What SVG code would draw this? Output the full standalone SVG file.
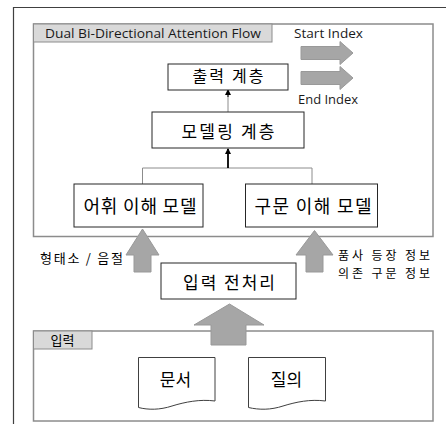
<svg xmlns="http://www.w3.org/2000/svg" width="446" height="424" viewBox="0 0 446 424">
<defs>
<style>
.frame{fill:none;stroke:#404040;stroke-width:1.2}
.group{fill:#fff;stroke:#8c8c8c;stroke-width:1.5}
.tab{fill:#d9d9d9;stroke:#8c8c8c;stroke-width:1}
.box{fill:#fff;stroke:#262626;stroke-width:1}
.doc{fill:#fff;stroke:#404040;stroke-width:1}
.blk{fill:#a6a6a6;stroke:#999;stroke-width:1}
.ko{font-family:"Noto Sans CJK KR","Noto Sans",sans-serif;fill:#000}
.lat{font-family:"Open Sans","Noto Sans",sans-serif;fill:#1a1a1a}
.ln{fill:none;stroke:#8c8c8c;stroke-width:1}
</style>
<marker id="ah" viewBox="0 0 6 6" refX="5" refY="3" markerWidth="6" markerHeight="6" orient="auto" markerUnits="userSpaceOnUse">
<path d="M0,0 L6,3 L0,6 Z" fill="#000"/>
</marker>
</defs>
<rect width="446" height="424" fill="#fff"/>
<path class="frame" d="M13.5,424 V7.5 H446"/>

<g id="dbaf">
<rect class="group" x="33.5" y="24" width="399.5" height="212.5"/>
<rect class="tab" x="33.5" y="24" width="238.5" height="18"/>
<text class="lat" x="45" y="38" font-size="12" textLength="216" lengthAdjust="spacingAndGlyphs">Dual Bi-Directional Attention Flow</text>
</g>

<g id="input-group">
<rect class="group" x="33.5" y="331" width="399.5" height="90"/>
<rect class="tab" x="33.5" y="331" width="58.5" height="18"/>
<text class="ko" x="62.5" y="345" font-size="13" text-anchor="middle">입력</text>
</g>

<g id="connectors">
<path class="ln" d="M228,112 V92"/>
<path d="M228,97 V90" stroke="#000" stroke-width="1" marker-end="url(#ah)"/>
<path class="ln" d="M142.5,184 V168 H312 V184"/>
<path d="M228,168 V149" stroke="#000" stroke-width="1.8" marker-end="url(#ah)"/>
<polygon id="arrow-left" class="blk" points="142.5,229 159,255 151,255 151,272 134,272 134,255 126,255"/>
<polygon id="arrow-right" class="blk" points="314.5,230.5 333,255 323,255 323,272 306,272 306,255 296,255"/>
<polygon id="arrow-big" class="blk" points="229.5,304 264,325 246,325 246,345 211,345 211,325 194,325"/>
<polygon id="arrow-start" class="blk" points="301,46.5 340,46.5 340,41.5 353,53 340,64.5 340,59.5 301,59.5"/>
<polygon id="arrow-end" class="blk" points="301,71.5 340,71.5 340,66.5 353,78 340,89.5 340,84.5 301,84.5"/>
</g>

<g id="output-layer">
<rect class="box" x="168" y="64" width="120" height="26"/>
<text class="ko" x="228" y="82" font-size="16" text-anchor="middle" textLength="71">출력 계층</text>
</g>

<g id="modeling-layer">
<rect class="box" x="152" y="112" width="152" height="36"/>
<text class="ko" x="228" y="138" font-size="17" text-anchor="middle" textLength="93">모델링 계층</text>
</g>

<g id="lexical-model">
<rect class="box" x="74" y="184" width="129" height="43"/>
<text class="ko" x="140" y="213" font-size="18" text-anchor="middle" textLength="113">어휘 이해 모델</text>
</g>

<g id="syntax-model">
<rect class="box" x="245.5" y="184" width="132" height="43"/>
<text class="ko" x="313" y="213" font-size="18" text-anchor="middle" textLength="117">구문 이해 모델</text>
</g>

<g id="preprocess">
<rect class="box" x="161" y="263" width="135" height="36"/>
<text class="ko" x="229" y="289" font-size="17" text-anchor="middle" textLength="92">입력 전처리</text>
</g>

<g id="doc-document">
<path class="doc" d="M138.5,357.5 H215 V401 C200,399 185,402 172,406 C160,410 148,410 138.5,407.5 Z"/>
<text class="ko" x="175.5" y="386" font-size="17" text-anchor="middle">문서</text>
</g>

<g id="doc-query">
<path class="doc" d="M248.5,357.5 H325.5 V401 C310,399 296,402 283,406 C271,410 259,410 248.5,407.5 Z"/>
<text class="ko" x="286.5" y="386" font-size="17" text-anchor="middle">질의</text>
</g>

<g id="labels">
<text class="lat" x="294" y="37.5" font-size="12" textLength="69" lengthAdjust="spacingAndGlyphs">Start Index</text>
<text class="lat" x="298" y="104" font-size="12" textLength="60" lengthAdjust="spacingAndGlyphs">End Index</text>
<text class="ko" x="40" y="262.5" font-size="13" fill="#333" textLength="83">형태소 / 음절</text>
<text class="ko" x="338" y="260" font-size="12" textLength="92">품사 등장 정보</text>
<text class="ko" x="338" y="277.5" font-size="12" textLength="92">의존 구문 정보</text>
</g>
</svg>
